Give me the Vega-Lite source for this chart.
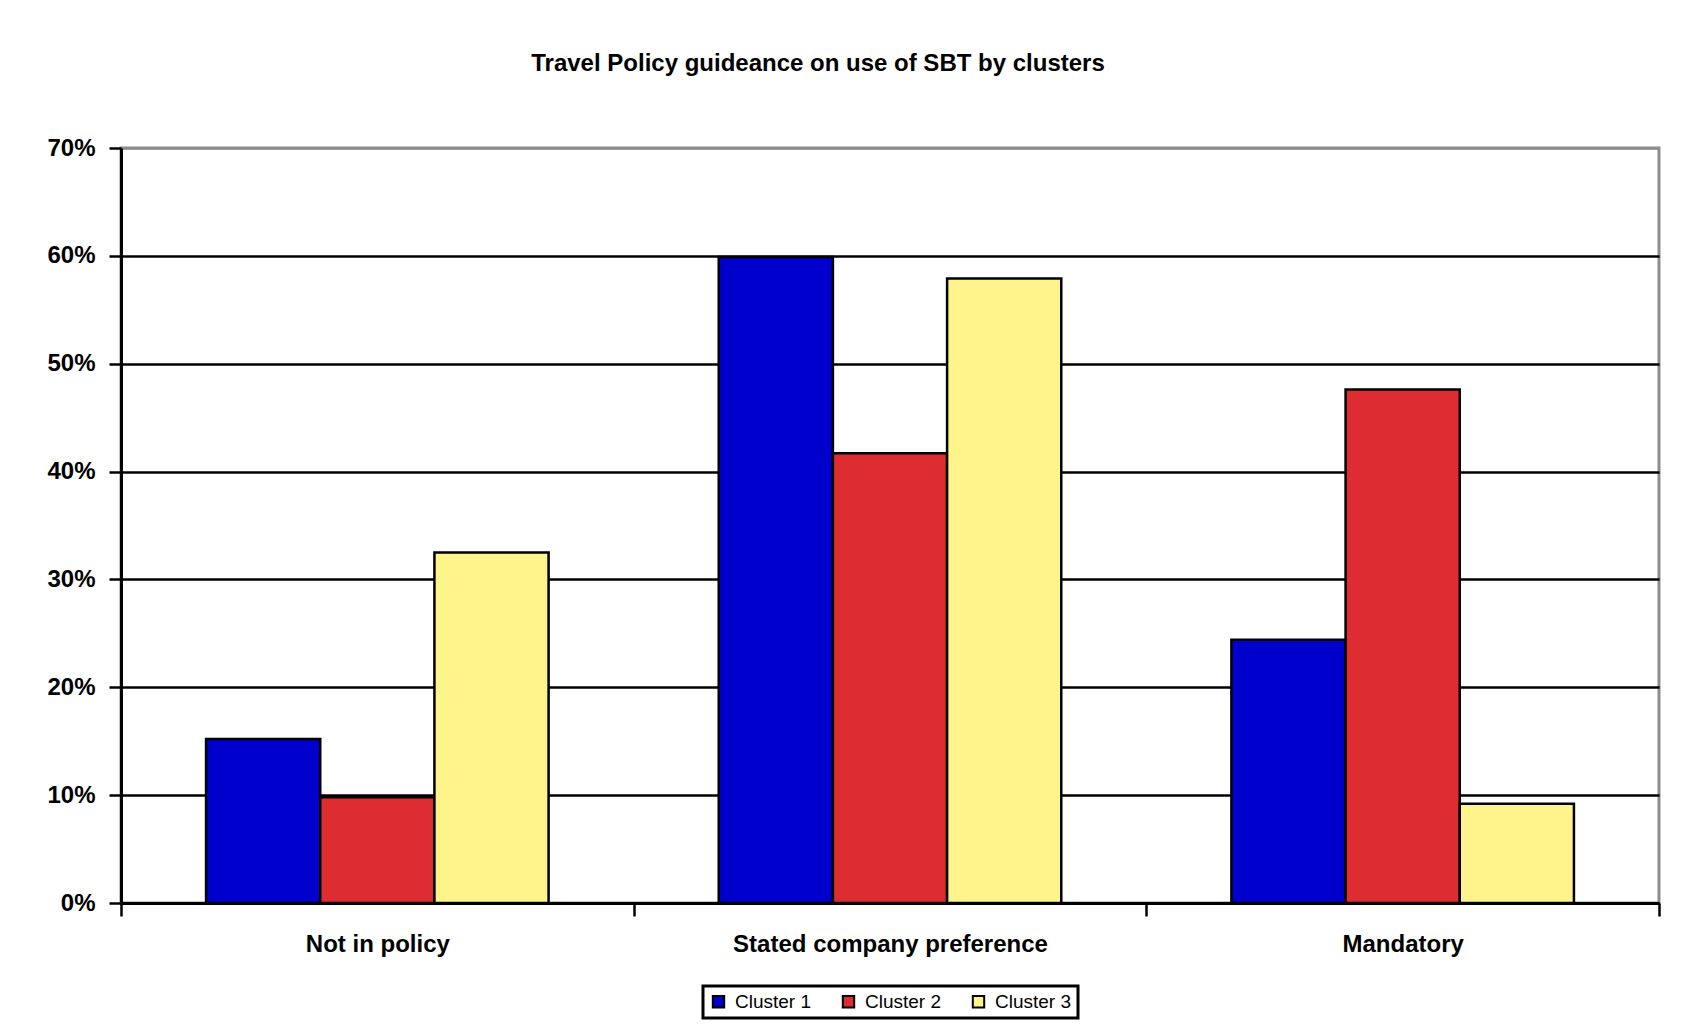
{
  "$schema": "https://vega.github.io/schema/vega-lite/v6.json",
  "autosize": {"type": "none"},
  "width": 1538,
  "height": 755,
  "padding": {"left": 121, "top": 148, "right": 30, "bottom": 128},
  "background": "white",
  "title": {
    "text": "Travel Policy guideance on use of SBT by clusters",
    "font": "Liberation Sans",
    "fontSize": 24,
    "fontWeight": "bold",
    "color": "black",
    "anchor": "middle",
    "dx": -72,
    "offset": 36,
    "baseline": "bottom"
  },
  "data": {
    "values": [
      {"policy": "Not in policy", "cluster": "Cluster 1", "share": 0.152},
      {"policy": "Not in policy", "cluster": "Cluster 2", "share": 0.098},
      {"policy": "Not in policy", "cluster": "Cluster 3", "share": 0.325},
      {"policy": "Stated company preference", "cluster": "Cluster 1", "share": 0.599},
      {"policy": "Stated company preference", "cluster": "Cluster 2", "share": 0.417},
      {"policy": "Stated company preference", "cluster": "Cluster 3", "share": 0.579},
      {"policy": "Mandatory", "cluster": "Cluster 1", "share": 0.244},
      {"policy": "Mandatory", "cluster": "Cluster 2", "share": 0.476},
      {"policy": "Mandatory", "cluster": "Cluster 3", "share": 0.092}
    ]
  },
  "mark": {"type": "bar", "stroke": "black", "strokeWidth": 2.5},
  "encoding": {
    "x": {
      "field": "policy",
      "type": "nominal",
      "sort": ["Not in policy", "Stated company preference", "Mandatory"],
      "scale": {"paddingInner": 0, "paddingOuter": 0},
      "axis": {
        "title": null,
        "labelAngle": 0,
        "labelLimit": 0,
        "tickBand": "extent",
        "domainColor": "black",
        "domainWidth": 3,
        "tickColor": "black",
        "tickWidth": 2.5,
        "tickSize": 13,
        "labelPadding": 16,
        "labelFont": "Liberation Sans",
        "labelFontSize": 24,
        "labelFontWeight": "bold",
        "labelColor": "black"
      }
    },
    "xOffset": {
      "field": "cluster",
      "type": "nominal",
      "scale": {"paddingInner": 0, "paddingOuter": 0.745}
    },
    "y": {
      "field": "share",
      "type": "quantitative",
      "scale": {"domain": [0, 0.7], "nice": false},
      "axis": {
        "title": null,
        "values": [0, 0.1, 0.2, 0.3, 0.4, 0.5, 0.6, 0.7],
        "format": ".0%",
        "grid": true,
        "gridColor": {"condition": {"test": "datum.value >= 0.65", "value": "#8c8c8c"}, "value": "black"},
        "gridWidth": 2.5,
        "domainColor": "black",
        "domainWidth": 3,
        "tickColor": "black",
        "tickWidth": 2.5,
        "tickSize": 12,
        "labelPadding": 14,
        "labelFont": "Liberation Sans",
        "labelFontSize": 24,
        "labelFontWeight": "bold",
        "labelColor": "black"
      }
    },
    "color": {
      "field": "cluster",
      "type": "nominal",
      "scale": {"domain": ["Cluster 1", "Cluster 2", "Cluster 3"], "range": ["#0000CC", "#DD2C32", "#FFF48C"]},
      "legend": {
        "title": null,
        "orient": "bottom",
        "direction": "horizontal",
        "symbolType": "square",
        "symbolSize": 130,
        "symbolStrokeColor": "black",
        "symbolStrokeWidth": 2,
        "labelFont": "Liberation Sans",
        "labelFontSize": 19,
        "labelColor": "black",
        "labelOffset": 7,
        "columnPadding": 26,
        "padding": 6,
        "offset": 30,
        "strokeColor": "black",
        "fillColor": "white"
      }
    }
  },
  "config": {
    "view": {"stroke": "#8c8c8c", "strokeWidth": 3},
    "legend": {"strokeWidth": 3, "layout": {"bottom": {"anchor": "middle"}}}
  }
}
